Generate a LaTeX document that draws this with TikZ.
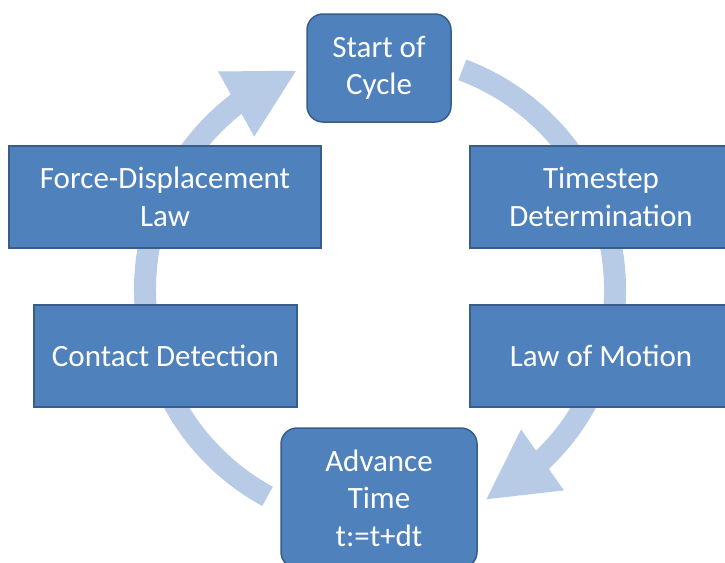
\documentclass[tikz,border=0pt]{standalone}
\usepackage{fontspec}
\setmainfont{Carlito}
\usepackage{xcolor}
\usetikzlibrary{positioning,calc,arrows.meta,bending}
\definecolor{boxblue}{RGB}{79,129,189}
\definecolor{boxline}{RGB}{56,93,138}
\definecolor{ringblue}{RGB}{183,202,230}

\begin{document}
\begin{tikzpicture}[
						x=1pt, y=1pt,
						stage/.style={rectangle, draw=boxline, line width=1.5pt, fill=boxblue, text=white, align=center, inner sep=0pt, font=\fontsize{31}{37.5}\selectfont},
						roundstage/.style={stage, rounded corners=16pt},
						ring/.style={line width=22pt, color=ringblue, -{Triangle[width=69pt,length=70pt,flex]}}
						]
						\clip (0,0) rectangle (725,-562);
						\coordinate (ctr) at (380,-290);
						
						\draw[ring] ($(ctr)+(69.5:235pt)$) arc[start angle=69.5, end angle=-63.4, radius=235pt];
						\draw[ring] ($(ctr)+(241.4:235pt)$) arc[start angle=241.4, end angle=110.6, radius=235pt];
						
						\node[roundstage, minimum width=144pt, minimum height=108pt] (start) at (379,-68) {Start of\\Cycle};
						\node[stage, minimum width=312pt, minimum height=102pt] (force) at (165,-197) {Force-Displacement\\Law};
						\node[stage, minimum width=262pt, minimum height=102pt] (tstep) at (601,-197) {Timestep\\Determination};
						\node[stage, minimum width=263pt, minimum height=102pt] (contact) at (165.5,-356) {Contact Detection};
						\node[stage, minimum width=262pt, minimum height=102pt] (motion) at (601,-356) {Law of Motion};
						\node[roundstage, minimum width=196pt, minimum height=140pt] (advance) at (379,-498) {Advance\\Time\\t:=t+dt};
					\end{tikzpicture}
\end{document}
